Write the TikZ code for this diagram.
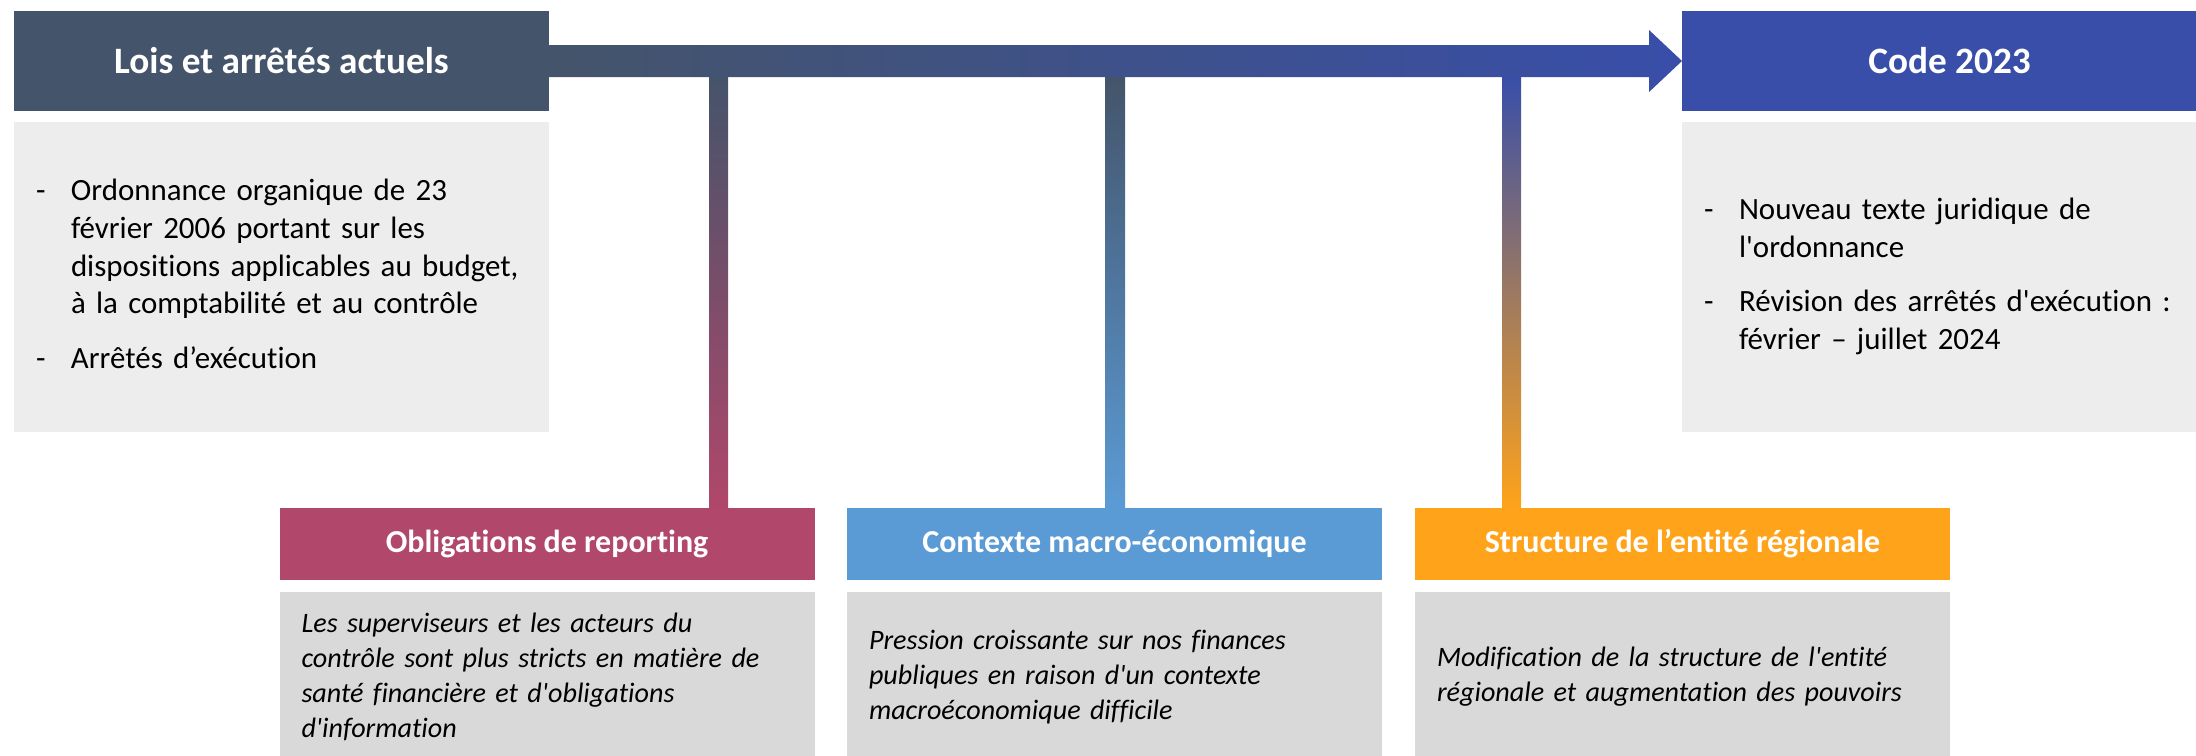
\documentclass[tikz,border=0pt]{standalone}
\usepackage{fontspec}
\setmainfont{Carlito}[Ligatures={TeX,NoCommon}]
\usetikzlibrary{positioning,calc}

\definecolor{ardoise}{HTML}{44546A}
\definecolor{bleucode}{HTML}{384EA9}
\definecolor{framboise}{HTML}{B1476A}
\definecolor{ciel}{HTML}{5B9BD5}
\definecolor{orangeclair}{HTML}{FFA31A}
\definecolor{mauve}{HTML}{B07A86}
\definecolor{grisclair}{HTML}{EDEDED}
\definecolor{grismoyen}{HTML}{D9D9D9}

\newcommand\ap{\textquotesingle}

\begin{document}
\begin{tikzpicture}[
    x=0.1mm, y=-0.1mm,
    titre/.style={fill=#1, text=white, outer sep=0pt, inner sep=0pt,
                  minimum width=53.5mm, minimum height=10mm,
                  font=\bfseries\fontsize{10.6}{12.5}\selectfont},
    cadre/.style={fill=grisclair, outer sep=0pt, inner xsep=2.2mm, inner ysep=0pt,
                  text width=49.1mm, minimum height=31mm, align=left,
                  font=\fontsize{8.8}{10.7}\selectfont},
    theme/.style={fill=#1, text=white, outer sep=0pt, inner sep=0pt,
                  minimum width=53.5mm, minimum height=7.2mm,
                  font=\bfseries\fontsize{9.1}{11}\selectfont},
    note/.style={fill=grismoyen, outer sep=0pt, inner xsep=2.2mm, inner ysep=0pt,
                 text width=49.1mm, minimum height=17mm, align=left,
                 font=\itshape\fontsize{8}{10}\selectfont},
    node distance=1.1mm,
  ]
  \useasboundingbox (0,0) rectangle (2196,755);
  \clip (0,0) rectangle (2196,755);

  % situation actuelle et cible
  \node[titre=ardoise] (actuel) at (281.5,61) {Lois et arrêtés actuels};
  \node[titre=bleucode] (code) at (1949.5,61) {Code 2023};
  \node[cadre, below=of actuel] (actuelTxt) {%
    \begin{tabular}{@{}p{3.5mm}@{}l@{}}
      - & Ordonnance organique de 23\\
        & février 2006 portant sur les\\
        & dispositions applicables au budget,\\
        & à la comptabilité et au contrôle\\[1.7mm]
      - & Arrêtés d’exécution
    \end{tabular}};
  \node[cadre, below=of code] (codeTxt) {%
    \begin{tabular}{@{}p{3.5mm}@{}l@{}}
      - & Nouveau texte juridique de\\
        & l\ap ordonnance\\[1.7mm]
      - & Révision des arrêtés d\ap exécution :\\
        & février – juillet 2024
    \end{tabular}};

  % les trois moteurs
  \node[theme=framboise] (oblig) at (547,544) {Obligations de reporting};
  \node[theme=ciel] (macro) at (1114.5,544) {Contexte macro-économique};
  \node[theme=orangeclair] (region) at (1682.5,544) {Structure de l’entité régionale};
  \node[note, below=1.2mm of oblig] (obligTxt) {Les superviseurs et les acteurs du\\
    contrôle sont plus stricts en matière de\\
    santé financière et d\ap obligations\\
    d\ap information};
  \node[note, below=1.2mm of macro] (macroTxt) {Pression croissante sur nos finances\\
    publiques en raison d\ap un contexte\\
    macroéconomique difficile};
  \node[note, below=1.2mm of region] (regionTxt) {Modification de la structure de l\ap entité\\
    régionale et augmentation des pouvoirs};

  % liaisons
  \coordinate (j1) at (718.5,76);
  \coordinate (j2) at (1115,76);
  \coordinate (j3) at (1511.5,76);
  \shade[top color=ardoise, bottom color=framboise]
    ($(j1)+(-9.5,0)$) rectangle ($(j1|-oblig.north)+(9.5,0)$);
  \shade[top color=ardoise, bottom color=ciel]
    ($(j2)+(-10,0)$) rectangle ($(j2|-macro.north)+(10,0)$);
  \shade[top color=bleucode, middle color=mauve, bottom color=orangeclair]
    ($(j3)+(-9.5,0)$) rectangle ($(j3|-region.north)+(9.5,0)$);
  \shade[left color=ardoise, middle color=ardoise, right color=bleucode]
    ($(actuel.east)+(0,-16)$) -- ($(code.west)+(-33,-16)$)
    -- ($(code.west)+(-33,-31)$) -- (code.west)
    -- ($(code.west)+(-33,31)$) -- ($(code.west)+(-33,16)$)
    -- ($(actuel.east)+(0,16)$) -- cycle;
\end{tikzpicture}
\end{document}
